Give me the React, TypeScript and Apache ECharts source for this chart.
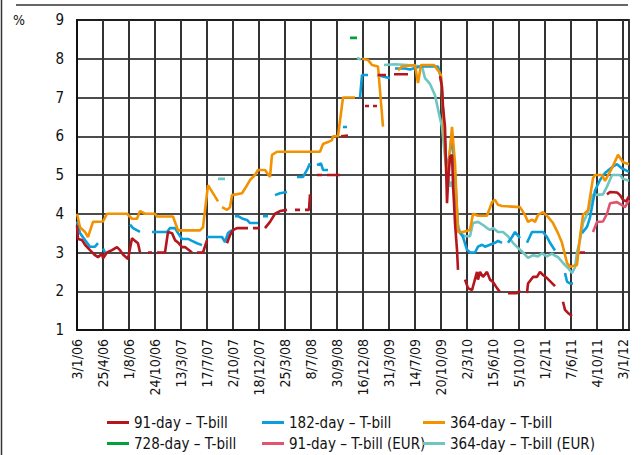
import React, { useEffect, useRef } from "react";
import * as echarts from "echarts";

const tickLabels = ["3/1/06","25/4/06","1/8/06","24/10/06","13/3/07","17/7/07","2/10/07","18/12/07","25/3/08","8/7/08","30/9/08","16/12/08","31/3/09","14/7/09","20/10/09","2/3/10","15/6/10","5/10/10","1/2/11","7/6/11","4/10/11","3/1/12"];

const seriesNames = ["91-day – T-bill","182-day – T-bill","364-day – T-bill","728-day – T-bill","91-day – T-bill (EUR)","364-day – T-bill (EUR)"];

const red91: [number, number | null][] = [[0,3.7],[1,3.35],[5,3.32],[8,3.2],[13,3.06],[18,2.93],[21,2.88],[25,2.97],[26,2.85],[30,3.0],[35,3.06],[40,3.14],[43,3.06],[46,2.95],[51,2.83],[55,3.37],[58,3.3],[61,3.24],[63,3.0],[67,null],[71,3.0],[75,3.0],[77,null],[80,3.0],[88,3.0],[91,3.53],[95,3.5],[98,3.32],[101,3.26],[105,3.14],[108,3.14],[115,3.0],[117,null],[120,3.0],[126,3.0],[130,3.32],[140,null],[150,3.24],[153,3.45],[156,3.58],[160,3.63],[171,3.63],[173,null],[176,3.63],[183,3.63],[185,null],[188,3.63],[193,3.79],[198,4.0],[203,4.07],[210,4.1],[214,null],[218,4.1],[223,4.1],[225,null],[228,4.1],[232,4.1],[233,4.5],[237,null],[240,5.0],[245,5.0],[248,null],[250,5.0],[263,5.0],[263.5,null],[264,6.0],[271,6.02],[280,null],[288,6.78],[292,6.78],[294,null],[296,6.78],[300,6.78],[300.5,null],[301,7.58],[309,7.58],[313,null],[317,7.6],[331,7.6],[347,null],[363,7.55],[365,7.28],[366,6.76],[368,6.24],[370,4.27],[371,4.78],[373,5.47],[375,5.52],[376,4.78],[378,3.76],[380,3.07],[381,2.55],[384,null],[388,2.3],[391,2.08],[395,2.03],[400,2.5],[401,2.3],[403,2.5],[406,2.37],[410,2.5],[413,2.3],[416,2.24],[420,2.08],[423,1.98],[427,null],[431,1.95],[440,1.95],[443,2.03],[446,null],[450,1.95],[451,2.2],[456,2.37],[460,2.37],[463,2.5],[466,2.42],[470,2.34],[475,2.21],[478,2.13],[482,null],[486,1.73],[488,1.52],[491,1.44],[495,1.36],[499,null],[503,3.0],[508,3.0],[515,null],[530,4.5],[533,4.56],[540,4.55],[543,4.48],[546,4.36],[549,4.32],[552,4.45]];

const blue182: [number, number | null][] = [[0,3.8],[3,3.5],[8,3.32],[13,3.15],[18,3.15],[21,3.24],[23,null],[26,3.1],[28,3.0],[40,null],[53,3.72],[56,3.63],[63,3.53],[69,null],[75,3.53],[90,3.53],[93,3.63],[98,3.63],[101,3.5],[105,3.35],[111,3.35],[115,3.3],[120,3.24],[125,3.19],[127,null],[130,3.4],[145,3.4],[148,3.27],[151,3.5],[155,3.58],[156,null],[158,3.94],[161,3.94],[165,3.88],[170,3.84],[173,3.76],[181,3.76],[183,null],[186,3.94],[191,3.94],[194,null],[198,4.48],[203,4.53],[210,4.56],[215,null],[220,4.95],[226,4.95],[230,5.13],[233,5.3],[236,null],[240,5.26],[244,5.3],[246,5.13],[251,5.13],[258,null],[266,6.24],[270,6.24],[276,null],[283,7.0],[285,7.58],[291,7.58],[295,null],[300,7.58],[308,7.53],[313,7.5],[315,null],[318,7.75],[328,7.75],[333,7.72],[343,7.8],[361,7.8],[364,7.5],[370,5.0],[375,6.03],[378,5.0],[381,3.6],[386,3.4],[390,3.07],[393,3.0],[398,3.0],[401,3.15],[405,3.2],[408,3.15],[413,3.2],[418,3.25],[421,3.3],[425,3.25],[428,null],[431,3.25],[435,3.4],[438,3.53],[443,3.37],[446,null],[450,3.25],[455,3.53],[466,3.53],[470,3.4],[473,3.25],[478,3.05],[483,null],[488,2.47],[490,2.25],[493,2.2],[496,2.2],[500,null],[505,3.5],[510,3.66],[513,3.9],[518,4.6],[523,4.87],[528,5.05],[535,5.2],[540,5.28],[545,5.17],[552,5.08]];

const orange364: [number, number | null][] = [[0,4.0],[3,3.65],[8,3.53],[11,3.4],[16,3.79],[26,3.8],[30,4.0],[50,4.0],[55,3.87],[60,3.87],[63,4.07],[68,4.0],[78,4.0],[80,3.93],[96,3.93],[101,3.57],[123,3.57],[126,3.65],[131,4.74],[141,4.32],[143,null],[145,4.17],[150,4.1],[153,4.17],[155,4.48],[165,4.53],[168,4.65],[173,4.87],[178,5.0],[181,5.13],[188,5.13],[193,4.95],[195,5.52],[200,5.6],[243,5.6],[246,5.8],[251,5.85],[255,5.9],[256,6.0],[261,6.0],[266,7.0],[278,7.0],[281,null],[285,8.0],[291,7.97],[295,7.84],[301,7.8],[306,6.25],[313,null],[321,7.7],[325,7.8],[338,7.84],[341,7.37],[344,7.84],[357,7.84],[361,7.7],[364,7.58],[370,4.8],[375,6.24],[378,5.3],[381,3.53],[386,3.53],[393,3.58],[396,4.0],[401,3.95],[410,3.95],[415,4.3],[418,4.36],[421,4.23],[425,4.2],[443,4.17],[448,3.97],[451,3.79],[455,3.85],[458,3.79],[461,3.97],[466,4.04],[471,3.92],[476,3.76],[481,3.5],[485,3.25],[490,2.73],[493,2.63],[500,2.68],[503,3.4],[506,3.97],[511,4.09],[516,4.92],[518,5.0],[525,5.0],[528,4.85],[535,5.18],[541,5.52],[546,5.33],[552,5.28]];

const green728: [number, number | null][] = [[273,8.54],[280,8.54]];

const pink91eur: [number, number | null][] = [[516,3.53],[520,3.79],[526,3.8],[530,4.0],[533,4.27],[540,4.3],[545,4.22],[548,4.17],[552,4.35]];

const teal364eur: [number, number | null][] = [[141,4.9],[148,4.9],[150,null],[280,8.02],[284,7.98],[290,null],[307,7.84],[318,7.86],[330,7.84],[345,7.8],[348,7.5],[353,7.35],[358,7.06],[361,6.7],[365,6.24],[368,5.47],[370,5.05],[373,4.7],[375,4.83],[378,4.3],[380,3.84],[383,3.5],[388,3.42],[393,3.42],[396,3.76],[401,3.79],[406,3.71],[410,3.63],[413,3.58],[416,3.63],[421,3.53],[426,3.53],[431,3.42],[436,3.25],[441,3.12],[446,3.0],[451,2.86],[456,2.93],[461,2.9],[465,2.98],[470,2.9],[475,2.97],[478,2.92],[481,2.88],[486,2.73],[491,2.6],[495,2.47],[498,2.62],[500,3.0],[503,3.32],[506,3.76],[511,4.04],[515,4.48],[526,4.5],[530,4.7],[535,5.0],[543,5.0],[546,4.9],[552,4.85]];

const colors = ["#B5161E", "#0A9FDB", "#F39200", "#00A13E", "#E0546F", "#6EC5C2"];

const FONT = "'Liberation Sans Narrow', 'DejaVu Sans Condensed', 'Arial Narrow', sans-serif";

export default function App() {
  const ref = useRef<HTMLDivElement>(null);
  useEffect(() => {
    document.body.style.margin = "0";
    if (!ref.current) return;
    const chart = echarts.init(ref.current, null, { renderer: "svg" });
    const allData = [red91, blue182, orange364, green728, pink91eur, teal364eur];
    const order = [3, 4, 5, 1, 2, 0];
    const series = order.map((i) => ({
      name: seriesNames[i],
      type: "line",
      data: allData[i].map(([x, y]) => [x, y === null ? "-" : y]),
      showSymbol: false,
      connectNulls: false,
      lineStyle: { color: colors[i], width: 2.6 },
      itemStyle: { color: colors[i] },
      z: 3,
    }));
    const colLeft = [107, 262, 423, 107, 262, 423];
    const rowTop = [415, 415, 415, 436, 436, 436];
    const legendOrder = [0, 1, 2, 3, 4, 5];
    const legends = legendOrder.map((i, k) => ({
      icon: "rect",
      itemWidth: 22,
      itemHeight: 3,
      padding: 0,
      left: colLeft[k],
      top: rowTop[k],
      textStyle: { fontFamily: FONT, fontSize: 15, color: "#111" },
      data: [seriesNames[i]],
    }));
    chart.setOption({
      animation: false,
      backgroundColor: "#fff",
      grid: { left: 77, right: 13, top: 20, bottom: 125, show: true, borderColor: "#444", borderWidth: 2, backgroundColor: "transparent" },
      xAxis: {
        type: "value",
        min: 0,
        max: 552,
        interval: 26,
        axisLine: { show: true, lineStyle: { color: "#111", width: 2 } },
        axisTick: { show: false },
        splitLine: { show: true, lineStyle: { color: "#333", width: 2 } },
        axisLabel: {
          rotate: 90,
          margin: 9,
          fontFamily: FONT,
          fontSize: 14,
          color: "#111",
          showMaxLabel: false,
          formatter: (v: number) => (v % 26 === 0 ? tickLabels[v / 26] ?? "" : ""),
        },
      },
      yAxis: {
        type: "value",
        min: 1,
        max: 9,
        interval: 1,
        axisLine: { show: true, lineStyle: { color: "#111", width: 2 } },
        axisTick: { show: false },
        splitLine: { show: true, lineStyle: { color: "#111", width: 1.5 } },
        axisLabel: { margin: 13, fontFamily: FONT, fontSize: 15, color: "#111" },
      },
      legend: legends,
      graphic: [
        { type: "line", shape: { x1: 16, y1: 5, x2: 628, y2: 5 }, style: { stroke: "#333", lineWidth: 1.5 } },
        { type: "line", shape: { x1: 1.5, y1: 0, x2: 1.5, y2: 455 }, style: { stroke: "#333", lineWidth: 1.5 } },
        { type: "text", left: 13, top: 13, style: { text: "%", fontFamily: FONT, fontSize: 14, fill: "#111" } },
      ],
      series,
    });
    return () => chart.dispose();
  }, []);
  return <div ref={ref} style={{ width: 642, height: 455 }} />;
}
